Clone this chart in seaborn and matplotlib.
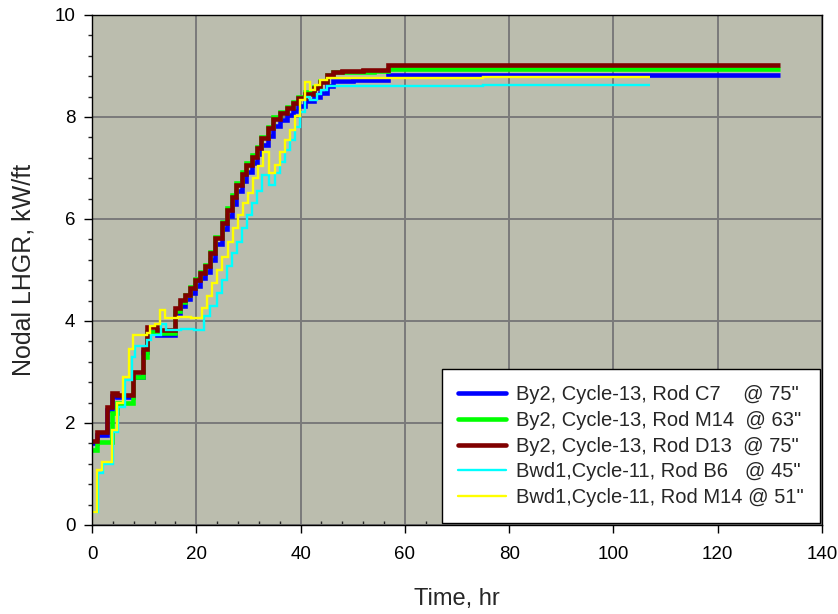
import matplotlib
matplotlib.use("Agg")
import matplotlib.pyplot as plt
from matplotlib.ticker import MultipleLocator
from matplotlib.lines import Line2D
import seaborn as sns
import pandas as pd

# Power ascension history, By2 Cycle-13 (shared step times for the three rods)
t_by2 = [0, 0.9, 2.8, 3.8, 4.7, 7.9, 9.8, 10.5, 12.5, 15.9, 16.9, 17.8, 18.8, 19.7,
         20.7, 21.7, 22.6, 23.6, 24.9, 25.8, 26.8, 27.7, 28.7, 29.6, 30.6, 31.6,
         32.5, 33.8, 34.8, 36.1, 37.3, 38.6, 39.6, 40.9, 42.5, 43.7, 45.0, 46.3,
         48, 50, 52, 54, 56.8, 132]
lhgr_c7 = [1.60, 1.76, 2.25, 2.52, 2.50, 2.90, 3.40, 3.78, 3.73, 4.15, 4.30, 4.44,
           4.55, 4.68, 4.85, 4.97, 5.20, 5.50, 5.80, 6.05, 6.30, 6.55, 6.75, 6.93,
           7.10, 7.27, 7.45, 7.63, 7.82, 7.94, 8.03, 8.12, 8.22, 8.32, 8.40, 8.47,
           8.60, 8.70, 8.71, 8.72, 8.72, 8.73, 8.82, 8.82]
lhgr_m14 = [1.47, 1.62, 1.62, 2.20, 2.40, 2.90, 3.30, 3.78, 3.76, 4.20, 4.38, 4.50,
            4.67, 4.82, 4.97, 5.10, 5.36, 5.65, 5.95, 6.21, 6.47, 6.70, 6.92, 7.09,
            7.25, 7.42, 7.61, 7.81, 8.00, 8.09, 8.19, 8.29, 8.39, 8.48, 8.58, 8.71,
            8.83, 8.88, 8.88, 8.89, 8.89, 8.90, 8.94, 8.94]
lhgr_d13 = [1.65, 1.82, 2.32, 2.58, 2.55, 3.00, 3.46, 3.88, 3.82, 4.25, 4.41, 4.51,
            4.65, 4.80, 4.95, 5.07, 5.33, 5.62, 5.92, 6.18, 6.44, 6.67, 6.89, 7.06,
            7.22, 7.39, 7.58, 7.78, 7.97, 8.07, 8.17, 8.27, 8.37, 8.46, 8.56, 8.69,
            8.82, 8.89, 8.90, 8.91, 8.92, 8.93, 9.01, 9.01]

# Bwd1 Cycle-11, rod B6
t_b6 = [0, 1.2, 2.1, 3.97, 5.05, 6.3, 7.6, 8.2, 10.5, 11.3, 13.2, 14.2, 17.0, 19.5,
        21.5, 22.6, 23.91, 24.87, 25.83, 26.79, 27.75, 28.71, 29.66, 30.62, 31.58,
        32.54, 34.0, 35.1, 36.06, 37.0, 37.97, 38.93, 39.9, 40.85, 41.8, 43.1, 44.0,
        45.0, 55, 75, 107]
lhgr_b6 = [0.26, 1.01, 1.20, 1.83, 2.32, 2.84, 3.30, 3.50, 3.63, 3.73, 3.95, 3.82,
           3.85, 3.82, 4.10, 4.30, 4.55, 4.80, 5.07, 5.33, 5.55, 5.82, 6.08, 6.31,
           6.54, 6.86, 6.66, 6.90, 7.12, 7.35, 7.55, 7.81, 8.10, 8.40, 8.33, 8.46,
           8.53, 8.60, 8.61, 8.62, 8.62]

# Bwd1 Cycle-11, rod M14
t_bm14 = [0, 1.0, 1.85, 3.8, 4.7, 6.0, 7.0, 7.9, 10.5, 11.2, 12.0, 13.0, 14.0, 16.5,
          19.0, 21.0, 22.0, 22.95, 23.9, 24.9, 26.15, 27.1, 28.07, 29.0, 30.0, 30.94,
          31.9, 32.86, 34.0, 35.1, 36.06, 37.0, 37.97, 38.93, 39.9, 40.85, 41.8,
          42.77, 43.73, 45.0, 50, 60, 75, 92, 107]
lhgr_bm14 = [0.26, 1.08, 1.24, 1.86, 2.39, 2.90, 3.46, 3.73, 3.76, 3.90, 3.95, 4.22,
             4.05, 4.08, 4.05, 4.25, 4.48, 4.74, 5.00, 5.26, 5.55, 5.82, 6.08, 6.31,
             6.50, 6.80, 7.03, 7.32, 6.90, 7.06, 7.32, 7.55, 7.75, 8.01, 8.33, 8.69,
             8.53, 8.63, 8.73, 8.76, 8.77, 8.77, 8.78, 8.78, 8.78]

labels = ['By2, Cycle-13, Rod C7    @ 75"',
          'By2, Cycle-13, Rod M14  @ 63"',
          'By2, Cycle-13, Rod D13  @ 75"',
          'Bwd1,Cycle-11, Rod B6   @ 45"',
          'Bwd1,Cycle-11, Rod M14 @ 51"']
colors = ['#0000FF', '#00FF00', '#800000', '#00FFFF', '#FFFF00']
widths = [3.3, 3.3, 3.3, 1.7, 1.7]
series = [(t_by2, lhgr_c7), (t_by2, lhgr_m14), (t_by2, lhgr_d13),
          (t_b6, lhgr_b6), (t_bm14, lhgr_bm14)]

sns.set_style("ticks")
plt.rcParams['font.family'] = ['Liberation Sans', 'DejaVu Sans']

fig = plt.figure(figsize=(8.38, 6.14), dpi=100)
ax = fig.add_axes([0.1098, 0.145, 0.8711, 0.8306])
ax.set_facecolor('#BBBDAE')

for (t, v), lab, c, w in zip(series, labels, colors, widths):
    df = pd.DataFrame({'t': t, 'v': v})
    sns.lineplot(data=df, x='t', y='v', ax=ax, color=c, linewidth=w,
                 drawstyle='steps-post', estimator=None, sort=False,
                 solid_joinstyle='miter', solid_capstyle='butt')

ax.set_xlim(0, 140)
ax.set_ylim(0, 10)
ax.xaxis.set_major_locator(MultipleLocator(20))
ax.xaxis.set_minor_locator(MultipleLocator(4))
ax.yaxis.set_major_locator(MultipleLocator(2))
ax.yaxis.set_minor_locator(MultipleLocator(0.4))
ax.grid(True, which='major', color='#7A7A7A', linewidth=1.4)
ax.set_axisbelow(True)
ax.tick_params(which='major', direction='out', length=6, width=1, colors='black',
               labelsize=13.5)
ax.tick_params(axis='x', which='major', pad=9)
ax.tick_params(axis='y', which='major', pad=6)
ax.tick_params(axis='x', which='minor', direction='in', length=3, width=1)
ax.tick_params(axis='y', which='minor', direction='out', length=3, width=1)
for s in ax.spines.values():
    s.set_visible(True)
    s.set_color('black')
    s.set_linewidth(1)

ax.set_xlabel('Time, hr', fontsize=17, labelpad=18)
ax.set_ylabel('Nodal LHGR, kW/ft', fontsize=18, labelpad=14)

handles = [Line2D([], [], color=c, linewidth=w) for c, w in zip(colors, widths)]
leg = ax.legend(handles, labels, loc='lower right', bbox_to_anchor=(1.0, 0.0),
                borderaxespad=0.1, fontsize=14.5, frameon=True, fancybox=False,
                edgecolor='black', facecolor='white', framealpha=1,
                handlelength=2.4, handletextpad=0.5, labelspacing=0.33,
                borderpad=0.8)
leg.get_frame().set_linewidth(1)

fig.savefig('out.png', dpi=100, facecolor='white')
